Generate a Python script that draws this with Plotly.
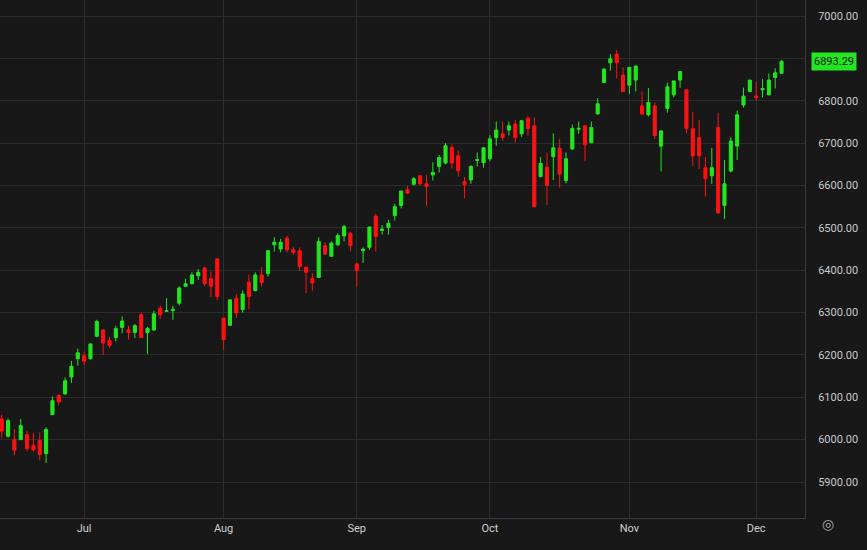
import plotly.graph_objects as go

opens = [6049,6008,6000,6000,6012,5986,5998,5967,6059,6104,6108,6148,6191,6198,6191,6244,6259,6234,6241,6265,
         6259,6253,6295,6253,6259,6310,6303,6305,6322,6362,6368,6387,6405,6380,6427,6287,6270,6334,6307,6372,
         6352,6389,6392,6460,6450,6476,6448,6446,6407,6380,6383,6458,6433,6460,6481,6487,6415,6446,6454,6528,
         6494,6501,6529,6553,6590,6603,6623,6604,6625,6645,6653,6690,6670,6609,6613,6659,6654,6663,6713,6722,
         6731,6745,6722,6759,6741,6621,6643,6668,6688,6612,6686,6733,6741,6701,6769,6843,6890,6910,6861,6837,
         6849,6788,6767,6788,6693,6782,6814,6849,6826,6734,6713,6642,6623,6737,6553,6634,6693,6790,6822,6811,
         6826,6814,6855,6865]
highs = [6059,6050,6025,6049,6021,6016,6017,6029,6102,6108,6147,6186,6215,6208,6226,6283,6261,6242,6269,6291,
         6269,6273,6301,6266,6304,6316,6334,6316,6362,6380,6395,6403,6409,6397,6427,6287,6330,6344,6352,6389,
         6395,6407,6446,6478,6474,6481,6454,6454,6409,6393,6478,6466,6468,6487,6507,6491,6415,6454,6502,6533,
         6507,6519,6557,6587,6599,6620,6625,6625,6655,6672,6700,6697,6683,6620,6648,6678,6691,6719,6751,6751,
         6751,6755,6755,6764,6761,6667,6678,6723,6710,6678,6744,6751,6741,6751,6806,6876,6910,6920,6879,6880,
         6883,6822,6830,6796,6729,6843,6847,6869,6828,6774,6755,6667,6689,6772,6660,6715,6777,6831,6849,6845,
         6851,6865,6877,6896]
lows = [6004,6005,5963,6000,5973,5972,5951,5945,6059,6081,6106,6134,6175,6177,6189,6242,6200,6216,6232,6251,
        6236,6240,6241,6202,6257,6285,6302,6283,6317,6361,6367,6377,6363,6336,6329,6212,6270,6287,6300,6308,
        6350,6362,6385,6444,6442,6442,6436,6399,6346,6352,6383,6438,6432,6458,6468,6444,6362,6417,6448,6444,
        6484,6484,6517,6546,6580,6600,6600,6552,6612,6631,6650,6640,6621,6570,6604,6645,6642,6657,6694,6706,
        6718,6701,6715,6718,6550,6619,6554,6613,6595,6605,6685,6722,6657,6700,6768,6842,6871,6853,6822,6816,
        6822,6766,6763,6710,6633,6772,6808,6831,6723,6646,6639,6574,6604,6535,6521,6631,6660,6784,6821,6800,
        6808,6813,6829,6864]
closes = [6020,6045,5975,6033,5979,5976,5965,6024,6092,6089,6139,6173,6205,6185,6226,6279,6228,6222,6262,6280,
          6253,6269,6241,6263,6297,6295,6304,6308,6358,6368,6389,6395,6368,6362,6338,6236,6330,6299,6344,6338,
          6389,6371,6446,6466,6466,6448,6442,6409,6395,6370,6468,6438,6464,6482,6503,6458,6399,6450,6502,6480,
          6497,6511,6550,6587,6582,6616,6604,6598,6631,6666,6694,6653,6635,6602,6645,6661,6689,6710,6731,6713,
          6741,6713,6753,6734,6550,6652,6600,6689,6627,6663,6735,6735,6696,6737,6793,6875,6899,6890,6822,6879,
          6882,6769,6796,6718,6729,6833,6847,6869,6735,6670,6670,6616,6642,6535,6604,6705,6767,6811,6849,6808,
          6829,6849,6866,6893.29]
month_labels = ["Jul", "Aug", "Sep", "Oct", "Nov", "Dec"]
month_index = [13, 35, 56, 77, 99, 119]
y_ticks = [5900, 6000, 6100, 6200, 6300, 6400, 6500, 6600, 6700, 6800, 6900, 7000]

idx = list(range(len(closes)))
UP, DN = "#22e61e", "#ff1111"
BG = "#181818"
last = closes[-1]

fig = go.Figure(go.Candlestick(
    x=idx, open=opens, high=highs, low=lows, close=closes,
    increasing=dict(line=dict(color=UP, width=1), fillcolor=UP),
    decreasing=dict(line=dict(color=DN, width=1), fillcolor=DN),
    whiskerwidth=0, hoverinfo="skip"))

fig.update_layout(
    width=867, height=550, paper_bgcolor=BG, plot_bgcolor=BG,
    margin=dict(l=0, r=62, t=0, b=32), showlegend=False,
    font=dict(family="Roboto, Arial", color="#c9c9c9", size=11),
    xaxis=dict(range=[-0.27, 126.7], tickmode="array", tickvals=month_index, ticktext=month_labels,
               showgrid=True, gridcolor="#2c2c2c", gridwidth=1, zeroline=False,
               showline=True, linecolor="#3c3c3c", ticks="", rangeslider=dict(visible=False),
               tickfont=dict(size=11, color="#d0d0d0")),
    yaxis=dict(side="right", range=[5815, 7038], tickvals=y_ticks,
               ticktext=["" if abs(v - last) < 40 else f"{v:.2f}" for v in y_ticks],
               showgrid=True, gridcolor="#2c2c2c", zeroline=False,
               showline=True, linecolor="#3c3c3c", ticks="", ticklabelstandoff=10,
               tickfont=dict(size=11, color="#c9c9c9")),
)
fig.add_annotation(xref="paper", yref="y", x=1.0, y=last, xanchor="left",
                   text=f"{last:.2f}", showarrow=False, bgcolor=UP,
                   font=dict(color="#111111", size=11), xshift=6, borderpad=2)
fig.add_annotation(xref="paper", yref="paper", x=1.0, y=0, yshift=-16, xshift=31, text="◎",
                   showarrow=False, font=dict(size=14, color="#aaaaaa"))
fig.write_html("out.html", config={"displayModeBar": False},
               post_script="document.body.style.margin='0px';")
